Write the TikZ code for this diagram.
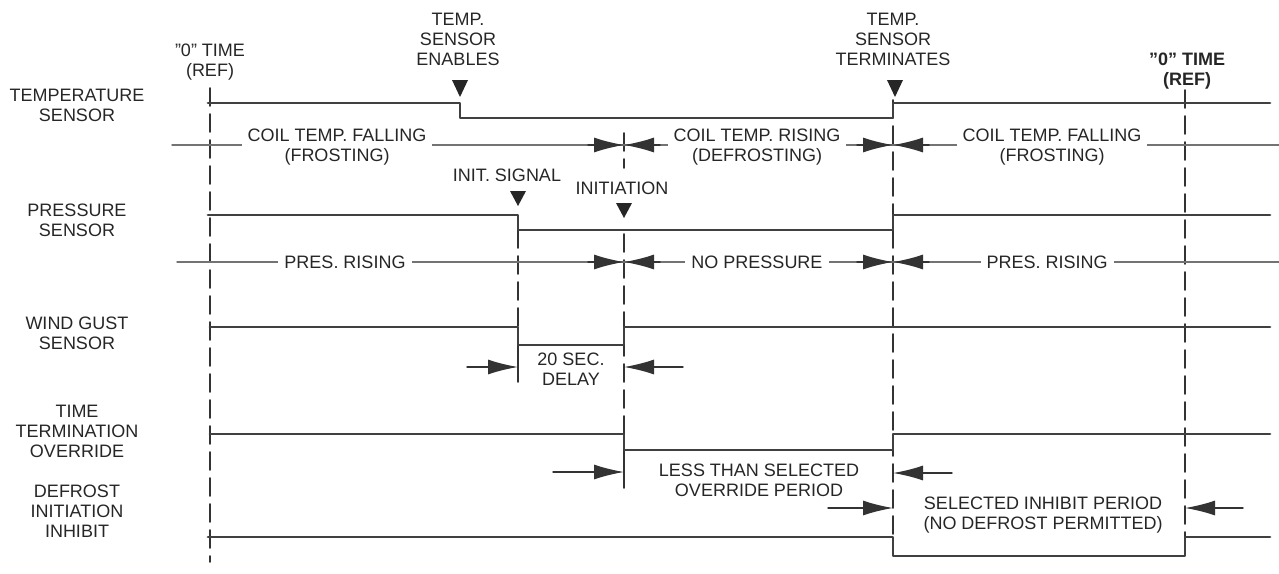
\documentclass[tikz,border=0pt]{standalone}
\usepackage{fontspec}
\setmainfont{Liberation Sans}
\usetikzlibrary{arrows.meta}
\newcommand\tmark[3]{\fill[black!85] (#1-8,#2) -- (#1+8,#2) -- (#1,#2+#3) -- cycle;}
\begin{document}
\begin{tikzpicture}[x=0.5pt,y=-0.5pt,line cap=round,line join=round,
  font=\fontsize{9}{10}\selectfont,
  wave/.style={line width=1.4pt,black!75},
  midline/.style={line width=0.7pt,black!55},
  timeline/.style={line width=0.9pt,black!80,dash pattern=on 9pt off 4pt},
  dimtip/.style={-{Latex[length=15pt,width=7.5pt]},line width=0.7pt,black!80},
  lbl/.style={align=center,text=black!85,inner sep=1pt},
  onlbl/.style={lbl,fill=white,inner xsep=3pt}]
  \useasboundingbox (0,0) rectangle (1279,573);
  \node[lbl] (tsens) at (77,105) {TEMPERATURE\\SENSOR};
  \node[lbl] (psens) at (77,220) {PRESSURE\\SENSOR};
  \node[lbl] (wsens) at (77,333) {WIND GUST\\SENSOR};
  \node[lbl] (tto) at (77,431) {TIME\\TERMINATION\\OVERRIDE};
  \node[lbl] (dii) at (77,511) {DEFROST\\INITIATION\\INHIBIT};
  \draw[timeline] (210,88) -- (210,562);
  \draw[timeline] (1185,90) -- (1185,556);
  \draw[timeline] (893,100) -- (893,537);
  \draw[timeline] (624,133) -- (624,168);
  \draw[timeline] (624,234) -- (624,488);
  \draw[timeline] (518,230) -- (518,383);
  \draw[line width=0.9pt,black!80] (518,352) -- (518,382);
  \draw[line width=0.9pt,black!80] (624,458) -- (624,488);
  \draw[wave] (208,103) -- (460,103) -- (460,118) -- (893,118) -- (893,103) -- (1270,103);
  \draw[wave] (208,215) -- (518,215) -- (518,230) -- (893,230) -- (893,215) -- (1270,215);
  \draw[wave] (210,327) -- (518,327) -- (518,345) -- (624,345) -- (624,327) -- (1270,327);
  \draw[wave] (210,434) -- (624,434) -- (624,450) -- (893,450) -- (893,434) -- (1270,434);
  \draw[wave] (208,537) -- (893,537) -- (893,556) -- (1185,556) -- (1185,537) -- (1270,537);
  \draw[midline] (172,145) -- (1279,145);
  \draw[midline] (177,262) -- (1279,262);
  \foreach \tx in {624,893}{
    \draw[dimtip] (\tx-36,145) -- (\tx,145);
    \draw[dimtip] (\tx+36,145) -- (\tx,145);
    \draw[dimtip] (\tx-36,262) -- (\tx,262);
    \draw[dimtip] (\tx+36,262) -- (\tx,262);
  }
  \node[onlbl] (cfall) at (337,147) {COIL TEMP. FALLING\\(FROSTING)};
  \node[onlbl] (crise) at (757,147) {COIL TEMP. RISING\\(DEFROSTING)};
  \node[onlbl] (cfall2) at (1052,147) {COIL TEMP. FALLING\\(FROSTING)};
  \node[onlbl] (prise) at (345,262) {PRES. RISING};
  \node[onlbl] (nopres) at (757,262) {NO PRESSURE};
  \node[onlbl] (prise2) at (1047,262) {PRES. RISING};
  \node[lbl] (zeroL) at (210,62) {''0'' TIME\\(REF)};
  \node[lbl,font=\fontsize{9}{10}\selectfont\bfseries] (zeroR) at (1187,71) {''0'' TIME\\(REF)};
  \node[lbl] (enab) at (458,39) {TEMP.\\SENSOR\\ENABLES};
  \node[lbl] (term) at (893,39) {TEMP.\\SENSOR\\TERMINATES};
  \node[lbl] (isig) at (507,175) {INIT. SIGNAL};
  \node[lbl] (init) at (622,188) {INITIATION};
  \tmark{460}{80}{17}
  \tmark{895}{80}{17}
  \tmark{518}{191}{15}
  \tmark{624}{203}{15}
  \node[lbl] (delay) at (571,369) {20 SEC.\\DELAY};
  \draw[dimtip] (467,367) -- (518,367);
  \draw[dimtip] (683,367) -- (624,367);
  \node[lbl] (lessp) at (759,480) {LESS THAN SELECTED\\OVERRIDE PERIOD};
  \draw[dimtip] (553,472) -- (624,472);
  \draw[dimtip] (952,473) -- (893,473);
  \node[lbl] (inhp) at (1043,515) {SELECTED INHIBIT PERIOD\\(NO DEFROST PERMITTED)};
  \draw[dimtip] (828,508) -- (893,508);
  \draw[dimtip] (1243,508) -- (1185,508);
\end{tikzpicture}
\end{document}
